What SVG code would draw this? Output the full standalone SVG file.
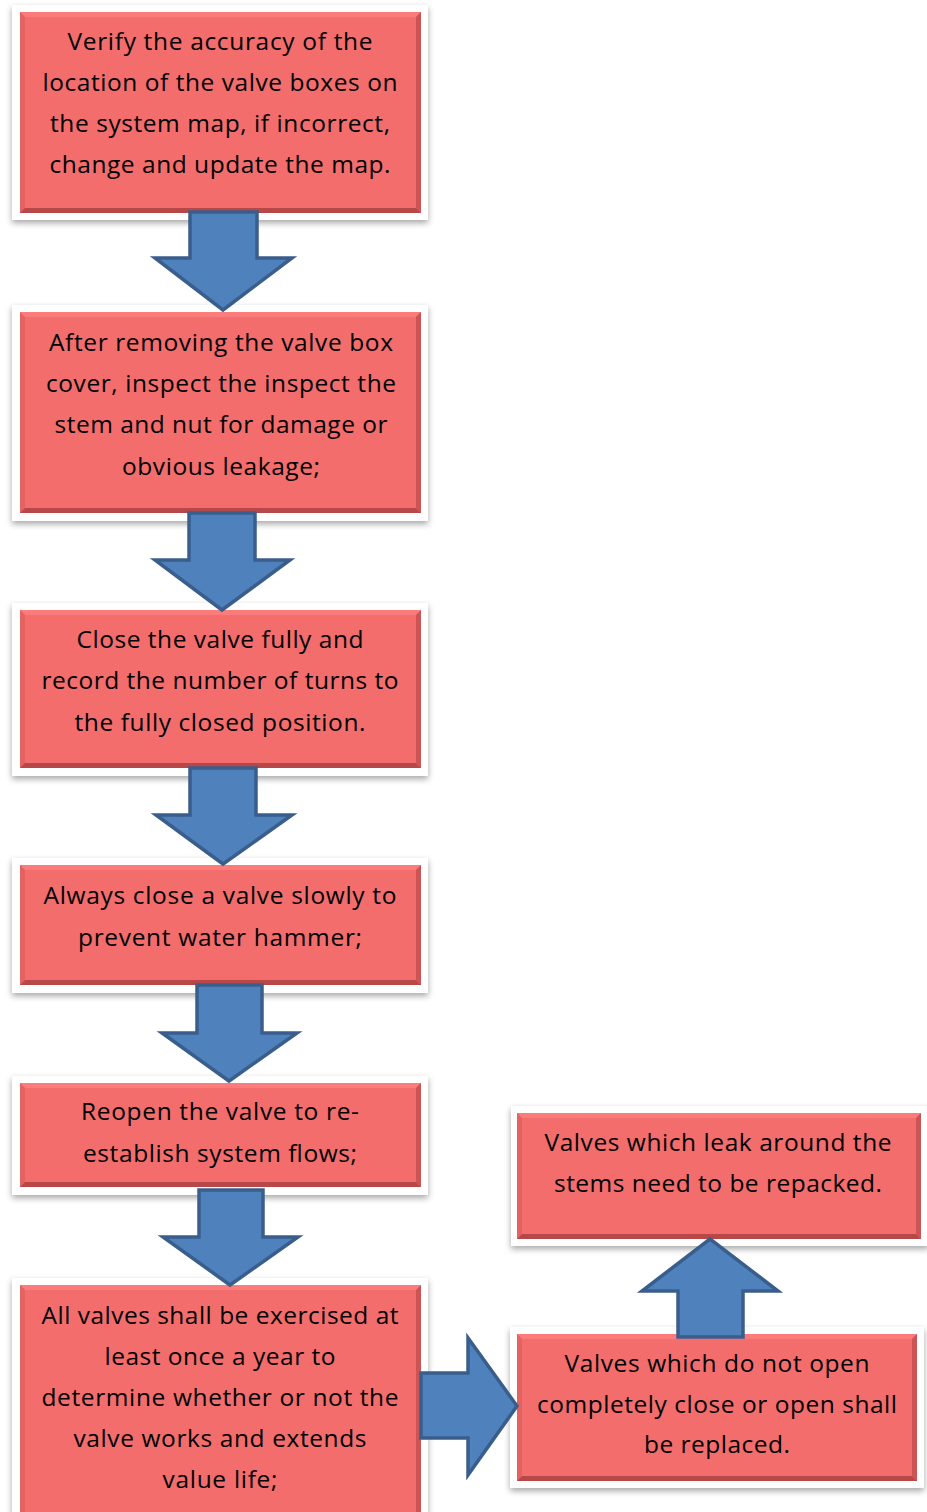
<svg xmlns="http://www.w3.org/2000/svg" width="927" height="1512" viewBox="0 0 927 1512">
  <defs>
    <filter id="shadow" x="-10%" y="-10%" width="120%" height="125%">
      <feDropShadow dx="0" dy="3" stdDeviation="3" flood-color="#000" flood-opacity="0.35"/>
    </filter>
  </defs>
  <style>
    .frame { fill: #FFFFFF; filter: url(#shadow); }
    .face { fill: #F36D6D; }
    .bev-t { fill: #FC7C7C; }
    .bev-l { fill: #E36363; }
    .bev-r { fill: #CC5454; }
    .bev-b { fill: #B84848; }
    .label { font-family: "Open Sans", "Liberation Sans", sans-serif; font-size: 24.5px; fill: #000; text-anchor: middle; }
    .arrow { fill: #4F81BD; stroke: #3A5E8C; stroke-width: 3.5; stroke-linejoin: miter; }
  </style>

  <!-- Step 1 -->
  <g id="step1">
    <rect class="frame" x="12" y="5" width="416" height="215"/>
    <rect class="face" x="20" y="12" width="401" height="201"/>
    <polygon class="bev-t" points="20,12 421,12 416,17 25,17"/>
    <polygon class="bev-l" points="20,12 25,17 25,208 20,213"/>
    <polygon class="bev-r" points="421,12 421,213 416,208 416,17"/>
    <polygon class="bev-b" points="20,213 421,213 416,208 25,208"/>
    <text class="label" x="220" y="50" textLength="305">Verify the accuracy of the</text>
    <text class="label" x="220" y="91" textLength="355">location of the valve boxes on</text>
    <text class="label" x="220" y="132" textLength="340">the system map, if incorrect,</text>
    <text class="label" x="220" y="173" textLength="341">change and update the map.</text>
  </g>

  <!-- Step 2 -->
  <g id="step2">
    <rect class="frame" x="12" y="305" width="416" height="216"/>
    <rect class="face" x="20" y="312" width="401" height="201"/>
    <polygon class="bev-t" points="20,312 421,312 416,317 25,317"/>
    <polygon class="bev-l" points="20,312 25,317 25,508 20,513"/>
    <polygon class="bev-r" points="421,312 421,513 416,508 416,317"/>
    <polygon class="bev-b" points="20,513 421,513 416,508 25,508"/>
    <text class="label" x="221" y="351" textLength="344">After removing the valve box</text>
    <text class="label" x="221" y="392" textLength="350">cover, inspect the inspect the</text>
    <text class="label" x="221" y="433" textLength="333">stem and nut for damage or</text>
    <text class="label" x="221" y="475" textLength="198">obvious leakage;</text>
  </g>

  <!-- Step 3 -->
  <g id="step3">
    <rect class="frame" x="12" y="603" width="416" height="173"/>
    <rect class="face" x="20" y="610" width="401" height="158"/>
    <polygon class="bev-t" points="20,610 421,610 416,615 25,615"/>
    <polygon class="bev-l" points="20,610 25,615 25,763 20,768"/>
    <polygon class="bev-r" points="421,610 421,768 416,763 416,615"/>
    <polygon class="bev-b" points="20,768 421,768 416,763 25,763"/>
    <text class="label" x="220" y="648" textLength="287">Close the valve fully and</text>
    <text class="label" x="220" y="689" textLength="357">record the number of turns to</text>
    <text class="label" x="220" y="731" textLength="291">the fully closed position.</text>
  </g>

  <!-- Step 4 -->
  <g id="step4">
    <rect class="frame" x="12" y="858" width="416" height="135"/>
    <rect class="face" x="20" y="865" width="401" height="120"/>
    <polygon class="bev-t" points="20,865 421,865 416,870 25,870"/>
    <polygon class="bev-l" points="20,865 25,870 25,980 20,985"/>
    <polygon class="bev-r" points="421,865 421,985 416,980 416,870"/>
    <polygon class="bev-b" points="20,985 421,985 416,980 25,980"/>
    <text class="label" x="220" y="904" textLength="353">Always close a valve slowly to</text>
    <text class="label" x="220" y="946" textLength="284">prevent water hammer;</text>
  </g>

  <!-- Step 5 -->
  <g id="step5">
    <rect class="frame" x="12" y="1076" width="416" height="119"/>
    <rect class="face" x="20" y="1083" width="401" height="104"/>
    <polygon class="bev-t" points="20,1083 421,1083 416,1088 25,1088"/>
    <polygon class="bev-l" points="20,1083 25,1088 25,1182 20,1187"/>
    <polygon class="bev-r" points="421,1083 421,1187 416,1182 416,1088"/>
    <polygon class="bev-b" points="20,1187 421,1187 416,1182 25,1182"/>
    <text class="label" x="220" y="1120" textLength="278">Reopen the valve to re-</text>
    <text class="label" x="220" y="1162" textLength="274">establish system flows;</text>
  </g>

  <!-- Step 6 -->
  <g id="step6">
    <rect class="frame" x="12" y="1278" width="416" height="250"/>
    <rect class="face" x="20" y="1285" width="401" height="235"/>
    <polygon class="bev-t" points="20,1285 421,1285 416,1290 25,1290"/>
    <polygon class="bev-l" points="20,1285 25,1290 25,1520 20,1520"/>
    <polygon class="bev-r" points="421,1285 421,1520 416,1520 416,1290"/>
    <text class="label" x="220" y="1324" textLength="357">All valves shall be exercised at</text>
    <text class="label" x="220" y="1365" textLength="231">least once a year to</text>
    <text class="label" x="220" y="1406" textLength="357">determine whether or not the</text>
    <text class="label" x="220" y="1447" textLength="293">valve works and extends</text>
    <text class="label" x="220" y="1488" textLength="115">value life;</text>
  </g>

  <!-- Replace branch -->
  <g id="replace">
    <rect class="frame" x="510" y="1327" width="414" height="161"/>
    <rect class="face" x="517" y="1334" width="400" height="147"/>
    <polygon class="bev-t" points="517,1334 917,1334 912,1339 522,1339"/>
    <polygon class="bev-l" points="517,1334 522,1339 522,1476 517,1481"/>
    <polygon class="bev-r" points="917,1334 917,1481 912,1476 912,1339"/>
    <polygon class="bev-b" points="517,1481 917,1481 912,1476 522,1476"/>
    <text class="label" x="717" y="1372" textLength="305">Valves which do not open</text>
    <text class="label" x="717" y="1413" textLength="360">completely close or open shall</text>
    <text class="label" x="717" y="1453" textLength="146">be replaced.</text>
  </g>

  <!-- Repack branch -->
  <g id="repack">
    <rect class="frame" x="511" y="1106" width="418" height="140"/>
    <rect class="face" x="517" y="1113" width="404" height="126"/>
    <polygon class="bev-t" points="517,1113 921,1113 916,1118 522,1118"/>
    <polygon class="bev-l" points="517,1113 522,1118 522,1234 517,1239"/>
    <polygon class="bev-r" points="921,1113 921,1239 916,1234 916,1118"/>
    <polygon class="bev-b" points="517,1239 921,1239 916,1234 522,1234"/>
    <text class="label" x="718" y="1151" textLength="347">Valves which leak around the</text>
    <text class="label" x="718" y="1192" textLength="328">stems need to be repacked.</text>
  </g>

  <!-- Block arrows between steps -->
  <g id="connectors">
    <polygon class="arrow" points="190,212 257,212 257,258 292,258 223,310 155,258 190,258"/>
    <polygon class="arrow" points="189,513 255,513 255,560 290,560 222,610 155,560 189,560"/>
    <polygon class="arrow" points="190,768 256,768 256,815 292,815 223,864 156,815 190,815"/>
    <polygon class="arrow" points="197,985 262,985 262,1033 297,1033 229,1081 162,1033 197,1033"/>
    <polygon class="arrow" points="199,1190 263,1190 263,1237 298,1237 230,1285 163,1237 199,1237"/>
    <polygon class="arrow" points="421,1373 468,1373 468,1338 517,1406 468,1475 468,1438 421,1438"/>
    <polygon class="arrow" points="678,1337 678,1291 642,1291 710,1239 778,1291 743,1291 743,1337"/>
  </g>
</svg>
